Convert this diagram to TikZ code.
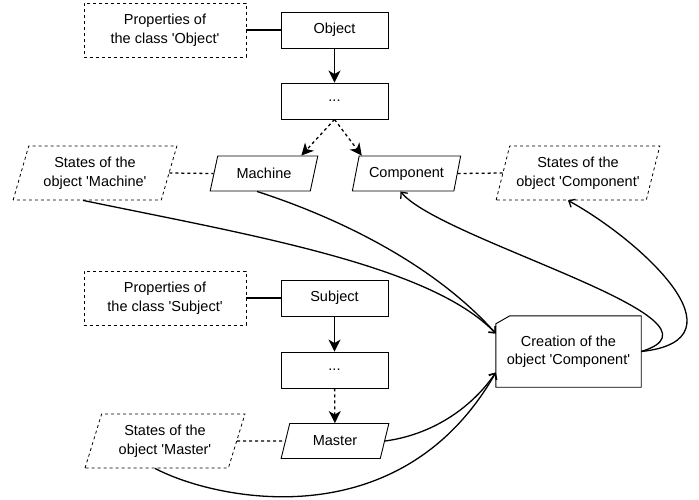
\documentclass[tikz,border=0pt]{standalone}
\usepackage{fontspec}
\setmainfont{Liberation Sans}
\usetikzlibrary{shapes.geometric,arrows.meta,calc}

\newcommand{\q}{\textquotesingle}

\tikzset{
	box/.style={draw, line width=0.9pt, minimum width=107pt, minimum height=36pt, inner sep=1pt, align=center},
	propbox/.style={draw, dashed, line width=0.8pt, minimum width=162pt, minimum height=54pt, inner sep=1pt, align=center},
	objpar/.style={draw, line width=0.9pt, trapezium, trapezium left angle=70, trapezium right angle=110,
		trapezium stretches=true, minimum width=108pt, minimum height=35pt, inner sep=1pt, align=center},
	statepar/.style={objpar, dashed, line width=0.8pt, minimum height=54pt, minimum width=164pt},
	link/.style={line width=1.3pt},
	dlink/.style={line width=1.3pt, dash pattern=on 3pt off 3pt},
	flow/.style={line width=1.3pt, -{Stealth[length=12pt,width=12pt,inset=3.5pt]}},
	dflow/.style={flow, dash pattern=on 3pt off 3pt},
	make/.style={line width=1.3pt, -{Straight Barb[length=5pt,width=9pt]}}
}

\begin{document}
\begin{tikzpicture}[x=1pt, y=-1pt, font=\fontsize{14.5}{18.5}\selectfont]
	\useasboundingbox (0,0) rectangle (699,499);

	% classe Object
	\node[propbox] (propobj) at (165, 30) {Properties of\\the class \q Object\q};
	\node[box] (object) at (334.5, 30) {Object};
	\node[box] (dotsA) at (334.5, 101) {...};
	\node[objpar] (machine) at (264, 173.5) {Machine};
	\node[objpar, minimum width=109pt] (component) at (406.5, 173.5) {Component};
	\node[statepar] (stmach) at (95, 173) {States of the\\object \q Machine\q};
	\node[statepar] (stcomp) at (578, 173) {States of the\\object \q Component\q};

	% classe Subject
	\node[propbox] (propsubj) at (165, 298) {Properties of\\the class \q Subject\q};
	\node[box] (subject) at (334.5, 298) {Subject};
	\node[box] (dotsB) at (334.5, 370) {...};
	\node[objpar] (master) at (335, 441) {Master};
	\node[statepar, minimum width=160pt] (stmast) at (165, 441) {States of the\\object \q Master\q};

	% creazione
	\node[minimum width=145pt, minimum height=71pt, align=center] (creation) at (568.5, 351.5)
		{Creation of the\\object \q Component\q};
	\draw[line width=0.9pt] ($(creation.north west)+(14,0)$) -- (creation.north east) -- (creation.south east)
		-- (creation.south west) -- ($(creation.north west)+(0,8)$) -- cycle;

	% legami
	\draw[link] (propobj) -- (object);
	\draw[flow] (object) -- (dotsA);
	\draw[dflow] (dotsA.south) -- ([xshift=-17pt]machine.top right corner);
	\draw[dflow] (dotsA.south) -- ([xshift=3pt]component.top left corner);
	\draw[dlink] (stmach.east) -- (machine.west);
	\draw[dlink] (component.east) -- (stcomp.west);

	\draw[link] (propsubj) -- (subject);
	\draw[flow] (subject) -- (dotsB);
	\draw[dflow] (dotsB) -- (master);
	\draw[dlink] (stmast.east) -- (master.west);

	% curve
	\draw[make] ([xshift=-12pt]stmach.south) .. controls (250,235) and (430,265) .. ([yshift=18pt]creation.west);
	\draw[make] ([xshift=-7pt]machine.south) .. controls (330,215) and (430,260) .. ([yshift=18pt]creation.west);
	\draw[make] (master.east) .. controls (430,435) and (470,410) .. ([yshift=-21pt]creation.west);
	\draw[make] ([xshift=-10pt]stmast.south) .. controls (215,500) and (400,540) .. ([yshift=-21pt]creation.west);
	\draw[make] (creation.east) .. controls (745,320) and (440,240) .. ([xshift=-6pt]component.south);
	\draw[make] (creation.east) .. controls (750,340) and (640,240) .. ([xshift=-10pt]stcomp.south);
\end{tikzpicture}
\end{document}
